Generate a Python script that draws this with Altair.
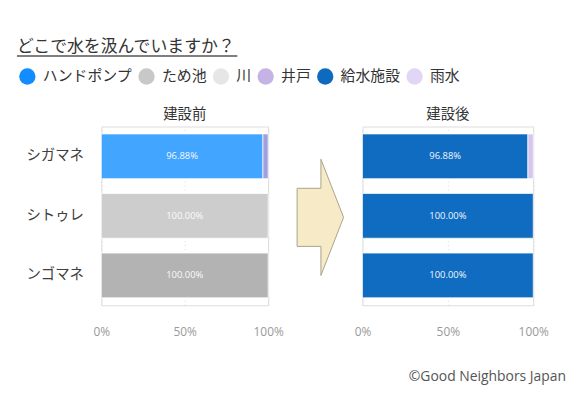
import altair as alt
import pandas as pd

# ---- data ----
sites = ["シガマネ", "シトゥレ", "ンゴマネ"]
legend_sources = ["ハンドポンプ", "ため池", "川", "井戸", "給水施設", "雨水"]
legend_colors = ["#118DFF", "#C8C8C8", "#E6E6E6", "#C6B3E6", "#0D6ABF", "#E2D6F7"]

seg_phase = ["建設前", "建設前", "建設前", "建設前", "建設後", "建設後", "建設後", "建設後"]
seg_site = ["シガマネ", "シガマネ", "シトゥレ", "ンゴマネ", "シガマネ", "シガマネ", "シトゥレ", "ンゴマネ"]
seg_source = ["ハンドポンプ", "井戸", "ため池", "川", "給水施設", "雨水", "給水施設", "給水施設"]
seg_value = [96.88, 3.12, 100.0, 100.0, 96.88, 3.12, 100.0, 100.0]
seg_fill = ["#42A5FF", "#A09FE0", "#CDCDCD", "#B3B3B3", "#0F6CC1", "#D5C6F0", "#0F6CC1", "#0F6CC1"]

title_text = "どこで水を汲んでいますか？"
credit_text = "©Good Neighbors Japan"
panel_titles = ["建設前", "建設後"]

df = pd.DataFrame({
    "phase": seg_phase,
    "site": seg_site,
    "source": seg_source,
    "value": seg_value,
    "fill": seg_fill,
})
df["rank"] = [legend_sources.index(s) for s in df["source"]]
legend_df = pd.DataFrame({"source": legend_sources})
one = legend_df.head(1)

FONT = "Noto Sans CJK JP"
LATIN = "Open Sans"

x_axis = alt.Axis(values=[0, 50, 100], labelExpr="datum.value + '%'", title=None,
                  grid=True, gridDash=[1, 3], gridColor="#D9D9D9", domain=False,
                  ticks=False, labelPadding=21, labelFontSize=12, labelColor="#999999",
                  labelFont=LATIN, labelFlush=False)


def panel(phase, width, show_y):
    d = df[df.phase == phase]
    yscale = alt.Scale(domain=sites, paddingInner=0.25, paddingOuter=0.125)
    if show_y:
        y = alt.Y("site:N", sort=sites, scale=yscale, title=None,
                  axis=alt.Axis(domain=False, ticks=False, labelPadding=18,
                                labelFontSize=14.5, labelColor="#404040", labelFont=FONT))
    else:
        y = alt.Y("site:N", sort=sites, scale=yscale, title=None, axis=None)
    base = alt.Chart(d)
    bars = base.mark_bar(stroke="white", strokeWidth=1, strokeOpacity=0.7).encode(
        x=alt.X("value:Q", stack="zero", scale=alt.Scale(domain=[0, 100]), axis=x_axis),
        y=y,
        fill=alt.Fill("fill:N", scale=None),
        order=alt.Order("rank:Q"),
    )
    labels = base.transform_stack(
        stack="value", groupby=["site"], as_=["v0", "v1"], sort=[alt.SortField("rank")]
    ).transform_calculate(
        mid="(datum.v0 + datum.v1) / 2",
        lab="format(datum.value, '.2f') + '%'",
    ).transform_filter("datum.value > 10").mark_text(
        color="white", fontSize=9.5, font=LATIN, opacity=0.95
    ).encode(
        x=alt.X("mid:Q"),
        y=alt.Y("site:N", sort=sites),
        text="lab:N",
    )
    ptitle = alt.Chart(one).mark_text(
        text=phase, align="center", baseline="middle", fontSize=14.5, font=FONT,
        color="#333333"
    ).encode(x=alt.value(width / 2), y=alt.value(-12))
    return bars, labels, ptitle


bl, ll, tl = panel(panel_titles[0], 168, True)
br, lr, tr = panel(panel_titles[1], 172, False)

legend_layer = alt.Chart(legend_df).mark_circle(size=0, opacity=1).encode(
    x=alt.value(0), y=alt.value(0),
    color=alt.Color("source:N", sort=legend_sources,
                    scale=alt.Scale(domain=legend_sources, range=legend_colors),
                    legend=alt.Legend(orient="none", legendX=-83, legendY=-59,
                                      direction="horizontal", title=None,
                                      symbolType="circle", symbolSize=270,
                                      symbolOpacity=1, symbolStrokeWidth=0,
                                      labelFontSize=15, labelColor="#333333",
                                      labelFont=FONT, labelOffset=7,
                                      columnPadding=5, padding=0)),
)

main_title = alt.Chart(one).mark_text(
    text=title_text, align="left", baseline="middle", fontSize=17, font=FONT,
    color="#333333"
).encode(x=alt.value(-85), y=alt.value(-80))

underline = alt.Chart(one).mark_rule(color="#555555", strokeWidth=1.5).encode(
    x=alt.value(-85), x2=alt.value(137), y=alt.value(-71)
)

arrow_path = "M -0.39 -0.5 L 0.02 -0.5 L 0.02 -1 L 0.41 0 L 0.02 1 L 0.02 0.5 L -0.39 0.5 Z"
arrow = alt.Chart(one).mark_point(
    shape=arrow_path, size=13689, filled=True, fill="#F6EBC6", stroke="#A9A38B",
    strokeWidth=1, opacity=1
).encode(x=alt.value(-43), y=alt.value(91.5))

credit = alt.Chart(one).mark_text(
    text=credit_text, align="right", baseline="middle", fontSize=14, font=LATIN,
    color="#555555"
).encode(x=alt.value(205), y=alt.value(252))

left = alt.layer(legend_layer, main_title, underline, tl, bl, ll).properties(
    width=168, height=180)
right = alt.layer(arrow, tr, br, lr, credit).properties(width=172, height=180)

chart = alt.hconcat(left, right, spacing=95, bounds="flush").properties(
    padding={"left": 7, "top": 28, "right": 0, "bottom": 0},
).configure_view(stroke=None).configure(font=FONT)

chart.save("out.html", embed_options={"renderer": "svg", "actions": False})
